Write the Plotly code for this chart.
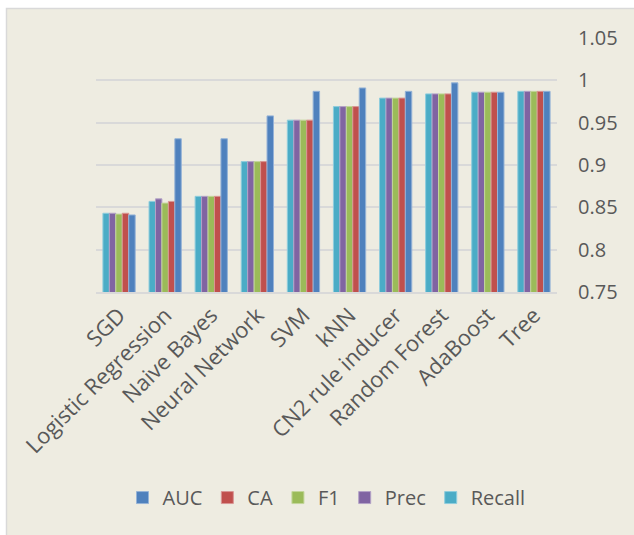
import plotly.graph_objects as go

# Classifier comparison: five evaluation metrics per model
models = ["SGD", "Logistic Regression", "Naive Bayes", "Neural Network", "SVM",
          "kNN", "CN2 rule inducer", "Random Forest", "AdaBoost", "Tree"]

recall = [0.843, 0.857, 0.863, 0.904, 0.953, 0.969, 0.979, 0.984, 0.986, 0.987]
prec   = [0.843, 0.860, 0.863, 0.904, 0.953, 0.969, 0.979, 0.984, 0.986, 0.987]
f1     = [0.842, 0.855, 0.863, 0.904, 0.953, 0.969, 0.979, 0.984, 0.986, 0.987]
ca     = [0.843, 0.857, 0.863, 0.904, 0.953, 0.969, 0.979, 0.984, 0.986, 0.987]
auc    = [0.841, 0.931, 0.931, 0.958, 0.987, 0.991, 0.987, 0.997, 0.986, 0.987]

# (name, values, fill, outline) in drawing order within each group
series = [
    ("Recall", recall, "#4BACC6", "#8FCDDD"),
    ("Prec",   prec,   "#8064A2", "#B3A2C7"),
    ("F1",     f1,     "#9BBB59", "#C3D69B"),
    ("CA",     ca,     "#C0504D", "#D99694"),
    ("AUC",    auc,    "#4F81BD", "#95B3D7"),
]

W, H = 634, 535
ML, MR, MT, MB = 96, 77, 38, 243
PW, PH = W - ML - MR, H - MT - MB


def px_x(p):
    return (p - ML) / PW


def px_y(p):
    return (H - MB - p) / PH


TEXT = "#595959"
GRID = "#D9D9D9"
BG = "#EEECE1"
FONT = "Open Sans"

fig = go.Figure()
for name, vals, fill, edge in series:
    fig.add_trace(go.Bar(
        x=models, y=vals, name=name,
        marker=dict(color=fill, line=dict(color=edge, width=1)),
    ))

fig.update_layout(
    width=W, height=H,
    margin=dict(l=ML, r=MR, t=MT, b=MB),
    paper_bgcolor="white",
    plot_bgcolor="rgba(0,0,0,0)",
    barmode="group",
    bargap=0.3,
    bargroupgap=0,
    font=dict(family=FONT, color=TEXT, size=20),
    showlegend=True,
    legend=dict(
        orientation="h", traceorder="reversed",
        xref="container", yref="container",
        x=0.515, xanchor="center", y=0.07, yanchor="middle",
        font=dict(family=FONT, size=20, color=TEXT),
        bgcolor="rgba(0,0,0,0)", itemwidth=30,
    ),
    xaxis=dict(
        tickangle=-45, tickfont=dict(family=FONT, size=22, color=TEXT),
        showline=True, linecolor=GRID, linewidth=1.5,
        showgrid=False, ticks="",
    ),
    yaxis=dict(
        side="right", range=[0.75, 1.05], dtick=0.05, tick0=0.75,
        showgrid=True, gridcolor=GRID, gridwidth=1.5,
        zeroline=False, ticks="", ticklabelstandoff=20,
        tickfont=dict(family=FONT, size=20, color=TEXT),
    ),
    shapes=[
        dict(type="rect", xref="paper", yref="paper", layer="below",
             x0=px_x(6.5), x1=px_x(W + 10), y0=px_y(H + 10), y1=px_y(8.5),
             fillcolor=BG, line=dict(color=GRID, width=1.5)),
    ],
)

fig.write_html("out.html")
